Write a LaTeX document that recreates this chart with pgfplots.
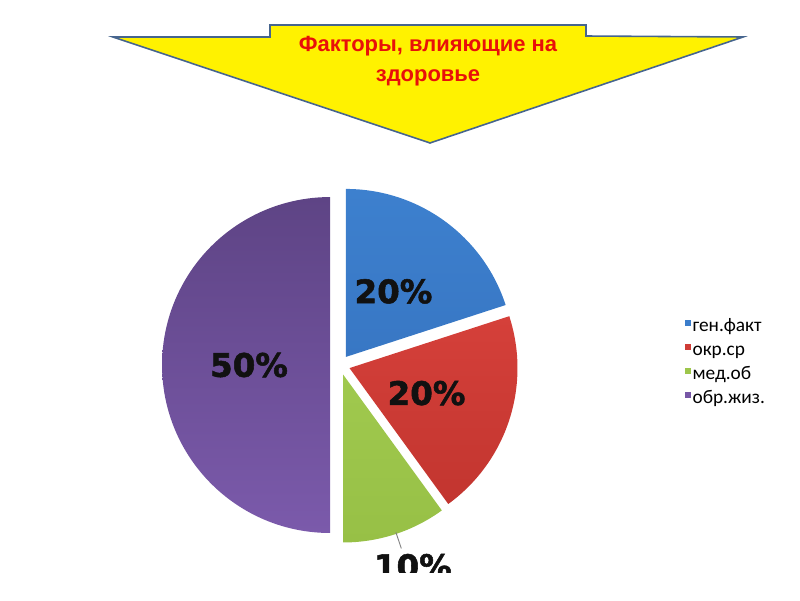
\documentclass[border=0pt]{standalone}
\usepackage{fontspec}
\setmainfont{Liberation Sans}
\newfontfamily\pctfont{DejaVu Sans}[BoldFeatures={FakeBold=1.6}]
\newfontfamily\legfont{Carlito}
\usepackage{pgfplots}
\pgfplotsset{compat=1.18}
\usepackage{pgfplotstable}

\definecolor{pt0}{HTML}{3D80CE}\definecolor{pb0}{HTML}{3877C4}
\definecolor{pt1}{HTML}{D5403A}\definecolor{pb1}{HTML}{C2352F}
\definecolor{pt2}{HTML}{A0C94E}\definecolor{pb2}{HTML}{97C046}
\definecolor{pt3}{HTML}{5E4485}\definecolor{pb3}{HTML}{7B5AAB}
\definecolor{pieblue}{HTML}{3B7DCB}
\definecolor{piered}{HTML}{CF3C36}
\definecolor{piegreen}{HTML}{9DC64B}
\definecolor{piepurple}{HTML}{7757A6}
\definecolor{arrowline}{HTML}{46658E}
\definecolor{titlered}{HTML}{E8100A}
\definecolor{labelblack}{HTML}{111111}

% share of each factor, %
\pgfplotstableread{
value
20
20
10
50
}\piedata

\tikzset{pct/.style={font=\pctfont\bfseries\fontsize{18.5}{21}\selectfont, text=labelblack}}

\begin{document}
\begin{tikzpicture}
\begin{axis}[
    x=0.02cm, y=0.02cm,
    xmin=0, xmax=800, ymin=0, ymax=600,
    hide axis, clip=false,
    legend image code/.code={\fill[#1] (0cm,0.08cm) rectangle (0.1cm,0.18cm);},
    legend cell align=left,
    legend style={at={(axis cs:685,283)}, anchor=north west, draw=none, fill=none,
        inner sep=0pt, row sep=0pt,
        font=\legfont\fontsize{11}{12}\selectfont,
        nodes={inner sep=0pt, text height=0.28cm, text depth=0.20cm},
        /tikz/every odd column/.append style={column sep=0.03cm}},
]
% title arrow
\filldraw[fill=yellow, draw=arrowline, line width=0.9pt, line join=miter]
  (axis cs:113,563) -- (axis cs:270,563) -- (axis cs:270,575) -- (axis cs:586,575)
  -- (axis cs:586,564) -- (axis cs:743,563) -- (axis cs:430,457) -- cycle;
\node[align=center, text=titlered, font=\bfseries\fontsize{12.5}{17}\selectfont]
  at (axis cs:428,539) {Факторы, влияющие на\\здоровье};

% exploded pie
\pgfplotstablegetrowsof{\piedata}
\pgfmathtruncatemacro\nrows{\pgfplotsretval-1}
\def\angA{90}
\pgfplotsforeachungrouped \i in {0,...,\nrows}{%
  \pgfplotstablegetelem{\i}{value}\of\piedata
  \let\v\pgfplotsretval
  \pgfmathsetmacro\angB{\angA-3.6*\v}
  \pgfmathsetmacro\angM{(\angA+\angB)/2}
  \pgfmathsetmacro\cx{340+10*cos(\angM)}
  \pgfmathsetmacro\cy{235+10*sin(\angM)}
  \edef\temp{\noexpand\shade[top color=pt\i, bottom color=pb\i]
    (axis cs:\cx,\cy) -- ++(\angA:3.36cm)
    arc[start angle=\angA, end angle=\angB, radius=3.36cm] -- cycle;}
  \temp
  \ifdim\v pt<15pt
    \pgfmathsetmacro\lx{\cx+204*cos(\angM+2)}
    \pgfmathsetmacro\ly{\cy+204*sin(\angM+2)}
    \edef\temp{\noexpand\draw[black!50, line width=0.5pt]
      (axis cs:\cx,\cy) ++(\angM+0.5:3.33cm) -- ++(\angM+0.5:0.34cm);
      \noexpand\node[pct] at (axis cs:\lx,\ly) {\v\noexpand\%};}
  \else
    \pgfmathsetmacro\lx{\cx+81*cos(\angM)}
    \pgfmathsetmacro\ly{\cy+81*sin(\angM)}
    \edef\temp{\noexpand\node[pct] at (axis cs:\lx,\ly) {\v\noexpand\%};}
  \fi
  \temp
  \global\let\angA\angB
}
% the slide ends just below the last label
\fill[white] (axis cs:0,-5) rectangle (axis cs:800,27);

\addlegendimage{pieblue}
\addlegendimage{piered}
\addlegendimage{piegreen}
\addlegendimage{piepurple}
\legend{ген.факт, окр.ср, мед.об, обр.жиз.}
\end{axis}
\pgfresetboundingbox
\path (current axis.south west) rectangle (current axis.north east);
\end{tikzpicture}
\end{document}
